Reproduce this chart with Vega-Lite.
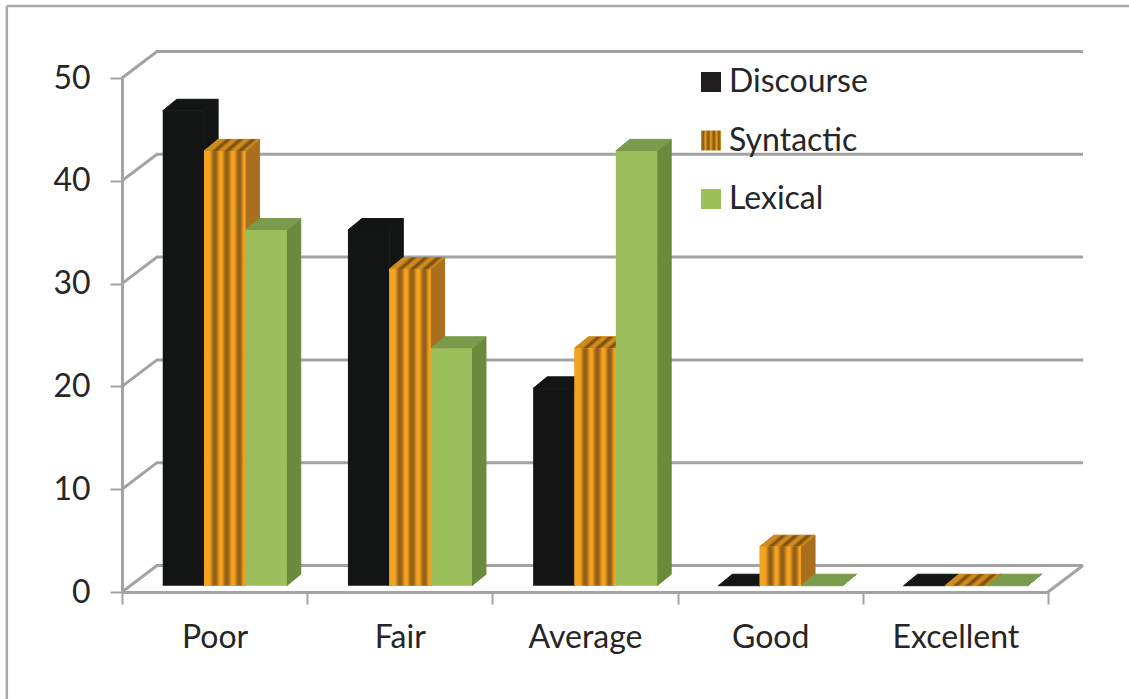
{
  "$schema": "https://vega.github.io/schema/vega-lite/v6.json",
  "width": 962,
  "height": 542,
  "autosize": "none",
  "padding": {"left": 122, "top": 50, "right": 45, "bottom": 107},
  "background": "white",
  "config": {"view": {"stroke": null}, "font": "Lato"},
  "datasets": {
    "scores": [
      {"category": "Poor", "series": "Discourse", "value": 46.2},
      {"category": "Poor", "series": "Syntactic", "value": 42.3},
      {"category": "Poor", "series": "Lexical", "value": 34.6},
      {"category": "Fair", "series": "Discourse", "value": 34.6},
      {"category": "Fair", "series": "Syntactic", "value": 30.8},
      {"category": "Fair", "series": "Lexical", "value": 23.1},
      {"category": "Average", "series": "Discourse", "value": 19.2},
      {"category": "Average", "series": "Syntactic", "value": 23.1},
      {"category": "Average", "series": "Lexical", "value": 42.3},
      {"category": "Good", "series": "Discourse", "value": 0},
      {"category": "Good", "series": "Syntactic", "value": 3.8},
      {"category": "Good", "series": "Lexical", "value": 0},
      {"category": "Excellent", "series": "Discourse", "value": 0},
      {"category": "Excellent", "series": "Syntactic", "value": 0},
      {"category": "Excellent", "series": "Lexical", "value": 0}
    ],
    "gridLevels": [
      {"level": 0}, {"level": 10}, {"level": 20}, {"level": 30}, {"level": 40}, {"level": 50}
    ]
  },
  "layer": [
    {
      "description": "Outer frame, left edge; also carries the value axis",
      "data": {"values": [{}]},
      "mark": {"type": "rule", "color": "#a9a9a9", "strokeWidth": 2.5},
      "encoding": {
        "x": {"datum": -0.622, "type": "quantitative", "scale": {"domain": [0, 5], "range": [0, 926]}, "axis": null},
        "y": {
          "datum": 57,
          "type": "quantitative",
          "scale": {"domain": [0, 50], "range": [542, 28]},
          "axis": {
            "title": null,
            "values": [0, 10, 20, 30, 40, 50],
            "grid": false,
            "labelFontSize": 32,
            "labelColor": "#262626",
            "labelFont": "Lato",
            "labelPadding": 20,
            "domainColor": "#a3a3a3",
            "domainWidth": 3,
            "tickColor": "#a3a3a3",
            "tickWidth": 2,
            "tickSize": 12
          }
        },
        "y2": {"datum": -10.4}
      }
    },
    {
      "description": "Outer frame, top edge",
      "data": {"values": [{}]},
      "mark": {"type": "rule", "color": "#a9a9a9", "strokeWidth": 2.5},
      "encoding": {
        "x": {"datum": -0.622, "type": "quantitative", "scale": {"domain": [0, 5], "range": [0, 926]}, "axis": null},
        "x2": {"datum": 5.44},
        "y": {"datum": 57, "type": "quantitative"}
      }
    },
    {
      "description": "Wall gridlines: a slanted run up the side wall, then along the back",
      "data": {"name": "gridLevels"},
      "transform": [
        {"calculate": "[0, 1, 2]", "as": "step"},
        {"flatten": ["step"]},
        {"calculate": "datum.step === 0 ? 0 : datum.step === 1 ? 0.189 : 5.189", "as": "wallX"},
        {"calculate": "datum.level + (datum.step === 0 ? 0 : 2.58)", "as": "wallY"}
      ],
      "mark": {"type": "line", "color": "#a3a3a3", "strokeWidth": 3},
      "encoding": {
        "x": {"field": "wallX", "type": "quantitative", "scale": {"domain": [0, 5], "range": [0, 926]}, "axis": null},
        "y": {"field": "wallY", "type": "quantitative"},
        "detail": {"field": "level"},
        "order": {"field": "step"}
      }
    },
    {
      "description": "Right edge of the floor",
      "data": {"values": [{}]},
      "mark": {"type": "rule", "color": "#a3a3a3", "strokeWidth": 3},
      "encoding": {
        "x": {"datum": 5, "type": "quantitative", "scale": {"domain": [0, 5], "range": [0, 926]}, "axis": null},
        "x2": {"datum": 5.189},
        "y": {"datum": 0, "type": "quantitative"},
        "y2": {"datum": 2.58}
      }
    },
    {
      "description": "Category axis along the front of the floor",
      "data": {"values": [
        {"category": "Poor"}, {"category": "Fair"}, {"category": "Average"}, {"category": "Good"}, {"category": "Excellent"}
      ]},
      "mark": {"type": "rule", "opacity": 0},
      "encoding": {
        "x": {
          "field": "category",
          "type": "nominal",
          "sort": null,
          "scale": {"type": "band", "domain": ["Poor", "Fair", "Average", "Good", "Excellent"], "range": [0, 926], "paddingInner": 0, "paddingOuter": 0},
          "axis": {
            "title": null,
            "labelAngle": 0,
            "labelFontSize": 32,
            "labelColor": "#262626",
            "labelFont": "Lato",
            "labelPadding": 18,
            "labelBaseline": "top",
            "domainColor": "#a3a3a3",
            "domainWidth": 3,
            "tickColor": "#a3a3a3",
            "tickWidth": 2,
            "tickSize": 12,
            "tickBand": "extent"
          }
        },
        "y": {"datum": 0, "type": "quantitative"}
      }
    },
    {
      "description": "Right-hand side faces of the bars",
      "data": {"name": "scores"},
      "transform": [
        {"calculate": "indexof(['Poor','Fair','Average','Good','Excellent'], datum.category) + 0.22 + indexof(['Discourse','Syntactic','Lexical'], datum.series) * 0.2232", "as": "barLeft"},
        {"calculate": "[0, 1]", "as": "depth"},
        {"flatten": ["depth"]},
        {"calculate": "datum.barLeft + 0.2232 + datum.depth * 0.0757", "as": "faceX"},
        {"calculate": "0.61 + datum.depth * 1.12", "as": "faceLow"},
        {"calculate": "datum.faceLow + datum.value", "as": "faceHigh"}
      ],
      "mark": {"type": "area", "orient": "vertical", "interpolate": "linear", "strokeWidth": 1},
      "encoding": {
        "x": {"field": "faceX", "type": "quantitative", "scale": {"domain": [0, 5], "range": [0, 926]}, "axis": null},
        "y": {"field": "faceLow", "type": "quantitative"},
        "y2": {"field": "faceHigh"},
        "detail": {"field": "category"},
        "fill": {
          "field": "series",
          "type": "nominal",
          "legend": null,
          "scale": {"domain": ["Discourse", "Syntactic", "Lexical"], "range": ["#121514", "#a96f1f", "#6a8a3c"]}
        },
        "stroke": {
          "field": "series",
          "type": "nominal",
          "legend": null,
          "scale": {"domain": ["Discourse", "Syntactic", "Lexical"], "range": ["#121514", "#a96f1f", "#6a8a3c"]}
        }
      }
    },
    {
      "description": "Top faces of the bars",
      "data": {"name": "scores"},
      "transform": [
        {"calculate": "indexof(['Poor','Fair','Average','Good','Excellent'], datum.category) + 0.22 + indexof(['Discourse','Syntactic','Lexical'], datum.series) * 0.2232", "as": "barLeft"},
        {"calculate": "[0, 1]", "as": "depth"},
        {"flatten": ["depth"]},
        {"calculate": "datum.barLeft + datum.depth * 0.0757", "as": "faceLeft"},
        {"calculate": "datum.faceLeft + 0.2232", "as": "faceRight"},
        {"calculate": "0.61 + datum.value + datum.depth * 1.12", "as": "faceY"}
      ],
      "mark": {"type": "area", "orient": "horizontal", "interpolate": "linear", "strokeWidth": 1},
      "encoding": {
        "y": {"field": "faceY", "type": "quantitative"},
        "x": {"field": "faceLeft", "type": "quantitative", "scale": {"domain": [0, 5], "range": [0, 926]}, "axis": null},
        "x2": {"field": "faceRight"},
        "detail": {"field": "category"},
        "fill": {
          "field": "series",
          "type": "nominal",
          "legend": null,
          "scale": {"domain": ["Discourse", "Syntactic", "Lexical"], "range": ["#121514", "#d08a1e", "#7a9b4b"]}
        },
        "stroke": {
          "field": "series",
          "type": "nominal",
          "legend": null,
          "scale": {"domain": ["Discourse", "Syntactic", "Lexical"], "range": ["#121514", "#d08a1e", "#7a9b4b"]}
        }
      }
    },
    {
      "description": "Stripes across the Syntactic top faces",
      "data": {"name": "scores"},
      "transform": [
        {"filter": "datum.series === 'Syntactic'"},
        {"calculate": "indexof(['Poor','Fair','Average','Good','Excellent'], datum.category) + 0.22 + 0.2232", "as": "barLeft"},
        {"calculate": "[0, 1]", "as": "depth"},
        {"flatten": ["depth"]},
        {"calculate": "datum.barLeft + datum.depth * 0.0757", "as": "faceLeft"},
        {"calculate": "datum.faceLeft + 0.2232", "as": "faceRight"},
        {"calculate": "0.61 + datum.value + datum.depth * 1.12", "as": "faceY"}
      ],
      "mark": {
        "type": "area",
        "orient": "horizontal",
        "interpolate": "linear",
        "fill": {
          "gradient": "linear", "x1": 0, "y1": 0, "x2": 1, "y2": 0.24,
          "stops": [
            {"offset": 0, "color": "#d08a1e"},
            {"offset": 0.34, "color": "#d08a1e"},
            {"offset": 0.4, "color": "#7d5212"},
            {"offset": 0.43, "color": "#7d5212"},
            {"offset": 0.49, "color": "#d08a1e"},
            {"offset": 0.55, "color": "#d08a1e"},
            {"offset": 0.605, "color": "#7d5212"},
            {"offset": 0.64, "color": "#7d5212"},
            {"offset": 0.7, "color": "#d08a1e"},
            {"offset": 0.76, "color": "#d08a1e"},
            {"offset": 0.82, "color": "#7d5212"},
            {"offset": 0.855, "color": "#7d5212"},
            {"offset": 0.92, "color": "#d08a1e"},
            {"offset": 1, "color": "#d08a1e"}
          ]
        }
      },
      "encoding": {
        "y": {"field": "faceY", "type": "quantitative"},
        "x": {"field": "faceLeft", "type": "quantitative", "scale": {"domain": [0, 5], "range": [0, 926]}, "axis": null},
        "x2": {"field": "faceRight"},
        "detail": {"field": "category"}
      }
    },
    {
      "description": "Front faces of the bars; the constant opacity channel supplies the legend",
      "data": {"name": "scores"},
      "transform": [
        {"calculate": "indexof(['Poor','Fair','Average','Good','Excellent'], datum.category) + 0.22 + indexof(['Discourse','Syntactic','Lexical'], datum.series) * 0.2232", "as": "barLeft"},
        {"calculate": "datum.barLeft + 0.2232", "as": "barRight"},
        {"calculate": "0.61 + datum.value", "as": "barTop"},
        {"calculate": "0.61", "as": "barBase"}
      ],
      "mark": {"type": "rect"},
      "encoding": {
        "x": {"field": "barLeft", "type": "quantitative", "scale": {"domain": [0, 5], "range": [0, 926]}, "axis": null},
        "x2": {"field": "barRight"},
        "y": {"field": "barBase", "type": "quantitative"},
        "y2": {"field": "barTop"},
        "fill": {
          "field": "series",
          "type": "nominal",
          "legend": null,
          "scale": {"domain": ["Discourse", "Syntactic", "Lexical"], "range": ["#121514", "#f5a21e", "#9dbf5b"]}
        },
        "opacity": {
          "field": "series",
          "type": "ordinal",
          "scale": {"type": "ordinal", "domain": ["Discourse", "Syntactic", "Lexical"], "range": [1, 1, 1]},
          "legend": {
            "title": null,
            "orient": "none",
            "legendX": 573,
            "legendY": 16,
            "symbolType": "square",
            "symbolSize": 400,
            "symbolStrokeWidth": 0,
            "labelFontSize": 32,
            "labelFont": "Lato",
            "labelColor": "#262626",
            "labelOffset": 2,
            "rowPadding": 26.5,
            "encoding": {
              "symbols": {
                "fill": {
                  "condition": [
                    {
                      "test": "datum.value === 'Syntactic'",
                      "value": {
                        "gradient": "linear", "x1": 0, "y1": 0, "x2": 1, "y2": 0,
                        "stops": [
                          {"offset": 0, "color": "#e89a1e"},
                          {"offset": 0.1, "color": "#7d5212"},
                          {"offset": 0.22, "color": "#e89a1e"},
                          {"offset": 0.36, "color": "#7d5212"},
                          {"offset": 0.5, "color": "#e89a1e"},
                          {"offset": 0.64, "color": "#7d5212"},
                          {"offset": 0.78, "color": "#e89a1e"},
                          {"offset": 0.9, "color": "#7d5212"},
                          {"offset": 1, "color": "#e89a1e"}
                        ]
                      }
                    },
                    {"test": "datum.value === 'Lexical'", "value": "#9dbf5b"}
                  ],
                  "value": "#211e1f"
                }
              }
            }
          }
        }
      }
    },
    {
      "description": "Stripes across the Syntactic front faces",
      "data": {"name": "scores"},
      "transform": [
        {"filter": "datum.series === 'Syntactic'"},
        {"calculate": "indexof(['Poor','Fair','Average','Good','Excellent'], datum.category) + 0.22 + 0.2232", "as": "barLeft"},
        {"calculate": "datum.barLeft + 0.2232", "as": "barRight"},
        {"calculate": "0.61 + datum.value", "as": "barTop"},
        {"calculate": "0.61", "as": "barBase"}
      ],
      "mark": {
        "type": "rect",
        "fill": {
          "gradient": "linear", "x1": 0, "y1": 0, "x2": 1, "y2": 0,
          "stops": [
            {"offset": 0, "color": "#f5a21e"},
            {"offset": 0.14, "color": "#f5a21e"},
            {"offset": 0.23, "color": "#94611a"},
            {"offset": 0.29, "color": "#94611a"},
            {"offset": 0.38, "color": "#f5a21e"},
            {"offset": 0.43, "color": "#f5a21e"},
            {"offset": 0.52, "color": "#94611a"},
            {"offset": 0.58, "color": "#94611a"},
            {"offset": 0.67, "color": "#f5a21e"},
            {"offset": 0.73, "color": "#f5a21e"},
            {"offset": 0.82, "color": "#94611a"},
            {"offset": 0.88, "color": "#94611a"},
            {"offset": 0.96, "color": "#f5a21e"},
            {"offset": 1, "color": "#f5a21e"}
          ]
        }
      },
      "encoding": {
        "x": {"field": "barLeft", "type": "quantitative", "scale": {"domain": [0, 5], "range": [0, 926]}, "axis": null},
        "x2": {"field": "barRight"},
        "y": {"field": "barBase", "type": "quantitative"},
        "y2": {"field": "barTop"}
      }
    }
  ],
  "resolve": {
    "scale": {"x": "independent", "fill": "independent", "stroke": "independent"},
    "axis": {"x": "independent"}
  }
}
